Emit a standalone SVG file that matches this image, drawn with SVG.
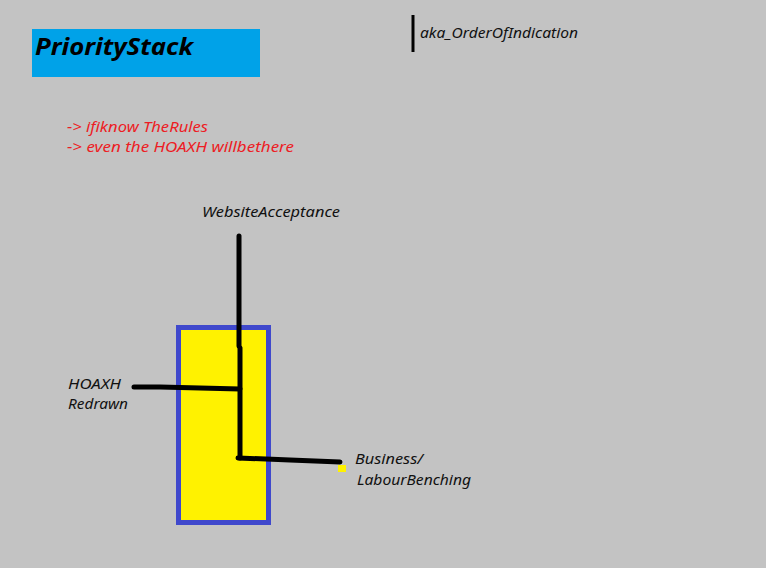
<svg xmlns="http://www.w3.org/2000/svg" width="766" height="568" viewBox="0 0 766 568">
<style>
.t{font-family:"Noto Sans","Open Sans",sans-serif;font-style:italic;font-size:15px;fill:#111}
.r{font-family:"Noto Sans","Open Sans",sans-serif;font-style:italic;font-size:14.5px;fill:#ed1c24}
.ln{stroke:#000;stroke-width:5;stroke-linecap:round;fill:none}
</style>
<rect width="766" height="568" fill="#c3c3c3"/>
<g id="title">
<rect x="32" y="29" width="228" height="48" fill="#00a2e8"/>
<text x="35" y="55" textLength="158" lengthAdjust="spacingAndGlyphs" style="font-family:'Noto Sans','Open Sans',sans-serif;font-style:italic;font-weight:bold;font-size:24px;fill:#000">PriorityStack</text>
</g>
<g id="aka">
<line x1="413" y1="15" x2="413" y2="52" stroke="#000" stroke-width="3"/>
<text class="t" x="420" y="38" textLength="158" lengthAdjust="spacingAndGlyphs">aka_OrderOfIndication</text>
</g>
<g id="notes">
<text class="r" x="67" y="132" textLength="141" lengthAdjust="spacingAndGlyphs">-&gt; ifiknow TheRules</text>
<text class="r" x="67" y="152" textLength="227" lengthAdjust="spacingAndGlyphs">-&gt; even the HOAXH willbethere</text>
</g>
<g id="stack">
<rect x="178.5" y="327.5" width="90" height="195" fill="#fff200" stroke="#3f48cc" stroke-width="5"/>
</g>
<g id="connectors">
<path class="ln" d="M239 236 L239 346"/>
<path class="ln" d="M240 348 L240 458"/>
<path class="ln" d="M134 387 L160 387 L240 389"/>
<path class="ln" d="M238 458 L290 460 L340 462"/>
<rect x="338" y="465" width="8" height="7" fill="#fff200"/>
</g>
<g id="labels">
<text class="t" x="202" y="217" textLength="138" lengthAdjust="spacingAndGlyphs">WebsiteAcceptance</text>
<text class="t" x="68" y="389" textLength="53" lengthAdjust="spacingAndGlyphs">HOAXH</text>
<text class="t" x="68" y="409" textLength="60" lengthAdjust="spacingAndGlyphs">Redrawn</text>
<text class="t" x="355" y="464" textLength="68" lengthAdjust="spacingAndGlyphs">Business/</text>
<text class="t" x="357" y="485" textLength="114" lengthAdjust="spacingAndGlyphs">LabourBenching</text>
</g>
</svg>
